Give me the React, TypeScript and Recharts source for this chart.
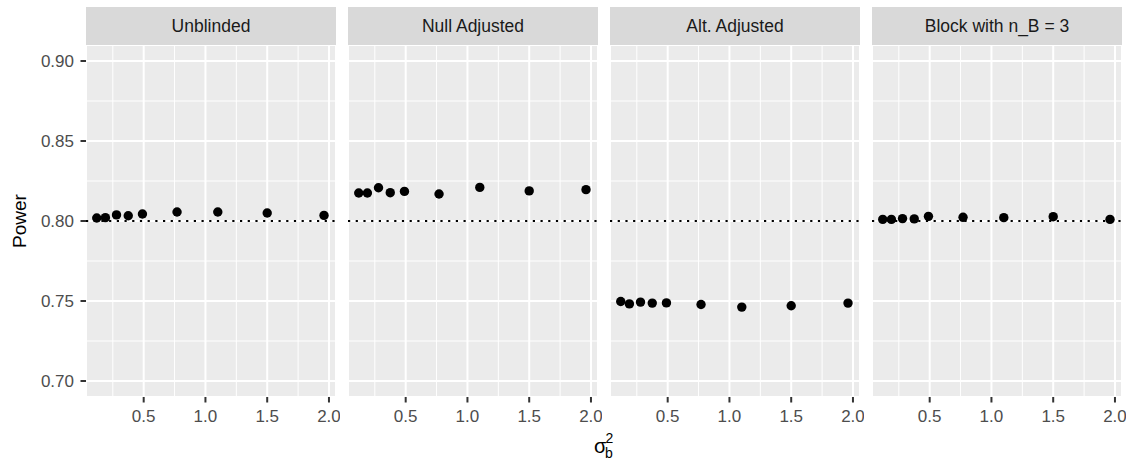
import React from "react";
import {
  ScatterChart, Scatter, XAxis, YAxis, CartesianGrid, ReferenceLine,
} from "recharts";

// sigma_b^2 values shared by every panel
const sigmaB2 = [0.12, 0.19, 0.28, 0.375, 0.49, 0.77, 1.10, 1.50, 1.96];

const powerUnblinded = [0.8019, 0.8021, 0.8038, 0.8033, 0.8044, 0.8056, 0.8056, 0.8050, 0.8035];
const powerNullAdjusted = [0.8175, 0.8175, 0.8208, 0.8177, 0.8185, 0.8169, 0.8210, 0.8188, 0.8196];
const powerAltAdjusted = [0.7497, 0.7482, 0.7493, 0.7487, 0.7488, 0.7478, 0.7462, 0.7470, 0.7487];
const powerBlock = [0.8010, 0.8010, 0.8015, 0.8013, 0.8029, 0.8023, 0.8021, 0.8027, 0.8010];

const panelTitles = ["Unblinded", "Null Adjusted", "Alt. Adjusted", "Block with n_B = 3"];
const panelSeries = [powerUnblinded, powerNullAdjusted, powerAltAdjusted, powerBlock];

const xTicks = [0.5, 1.0, 1.5, 2.0];
const xMinor = [0.25, 0.75, 1.25, 1.75];
const yTicks = [0.70, 0.75, 0.80, 0.85, 0.90];
const yMinor = [0.725, 0.775, 0.825, 0.875];
const targetPower = 0.80;

const FONT = "'Liberation Sans', Arial, Helvetica, sans-serif";
const PANEL_LEFT = [86, 348, 610, 872];
const PANEL_W = 250;
const PLOT_TOP = 45;
const PLOT_BOTTOM = 397;
const H = 463;
const X_AXIS_H = 30;

const Dot = (props: any) => (
  <circle cx={props.cx} cy={props.cy} r={4.7} fill="#000000" />
);

function Panel({ index }: { index: number }) {
  const first = index === 0;
  const data = sigmaB2.map((x, i) => ({ x, y: panelSeries[index][i] }));
  const left = first ? 0 : PANEL_LEFT[index] - 4;
  const width = first ? PANEL_LEFT[0] + PANEL_W + 4 : PANEL_W + 8;

  return (
    <div style={{ position: "absolute", left, top: 0 }}>
      <ScatterChart
        width={width}
        height={H}
        margin={{ top: PLOT_TOP, right: 4, left: first ? 0 : 4, bottom: H - PLOT_BOTTOM - X_AXIS_H }}
      >
        <CartesianGrid stroke="#FFFFFF" strokeWidth={2} fill="#EBEBEB" fillOpacity={1} />
        {xMinor.map((v) => (
          <ReferenceLine key={"xm" + v} x={v} stroke="#FFFFFF" strokeWidth={1} />
        ))}
        {yMinor.map((v) => (
          <ReferenceLine key={"ym" + v} y={v} stroke="#FFFFFF" strokeWidth={1} />
        ))}
        <XAxis
          type="number"
          dataKey="x"
          domain={[0.033, 2.057]}
          ticks={xTicks}
          allowDataOverflow
          height={X_AXIS_H}
          axisLine={false}
          tickLine={{ stroke: "#333333", strokeWidth: 2 }}
          tickSize={5.5}
          tickMargin={7}
          tickFormatter={(v: number) => v.toFixed(1)}
          tick={{ fill: "#4D4D4D", fontSize: 17, fontFamily: FONT }}
        />
        <YAxis
          type="number"
          dataKey="y"
          domain={[0.69, 0.91]}
          ticks={yTicks}
          allowDataOverflow
          hide={!first}
          width={PANEL_LEFT[0]}
          axisLine={false}
          tickLine={{ stroke: "#333333", strokeWidth: 2 }}
          tickSize={5.5}
          tickMargin={6.5}
          tickFormatter={(v: number) => v.toFixed(2)}
          tick={{ fill: "#4D4D4D", fontSize: 17, fontFamily: FONT }}
        />
        <ReferenceLine y={targetPower} stroke="#000000" strokeWidth={1.8} strokeDasharray="2.2 5.5" />
        <Scatter data={data} shape={Dot} isAnimationActive={false} />
      </ScatterChart>
      <div
        style={{
          position: "absolute",
          left: first ? PANEL_LEFT[0] : 4,
          top: 7,
          width: PANEL_W,
          height: 38,
          background: "#D9D9D9",
          color: "#1A1A1A",
          fontFamily: FONT,
          fontSize: 17.5,
          display: "flex",
          alignItems: "center",
          justifyContent: "center",
        }}
      >
        {panelTitles[index]}
      </div>
    </div>
  );
}

export default function App() {
  return (
    <div style={{ position: "absolute", left: 0, top: 0, width: 1134, height: H, background: "#FFFFFF" }}>
      {panelTitles.map((_, i) => (
        <Panel key={i} index={i} />
      ))}
      <svg width={1134} height={H} style={{ position: "absolute", left: 0, top: 0, pointerEvents: "none" }}>
        <text
          transform="translate(26, 221) rotate(-90)"
          textAnchor="middle"
          fontFamily={FONT}
          fontSize={19}
          fill="#000000"
        >
          Power
        </text>
        <text x={594} y={453} fontFamily={FONT} fontSize={20} fill="#000000">σ</text>
        <text x={605.5} y={443} fontFamily={FONT} fontSize={14} fill="#000000">2</text>
        <text x={605} y={458} fontFamily={FONT} fontSize={14} fill="#000000">b</text>
      </svg>
    </div>
  );
}
